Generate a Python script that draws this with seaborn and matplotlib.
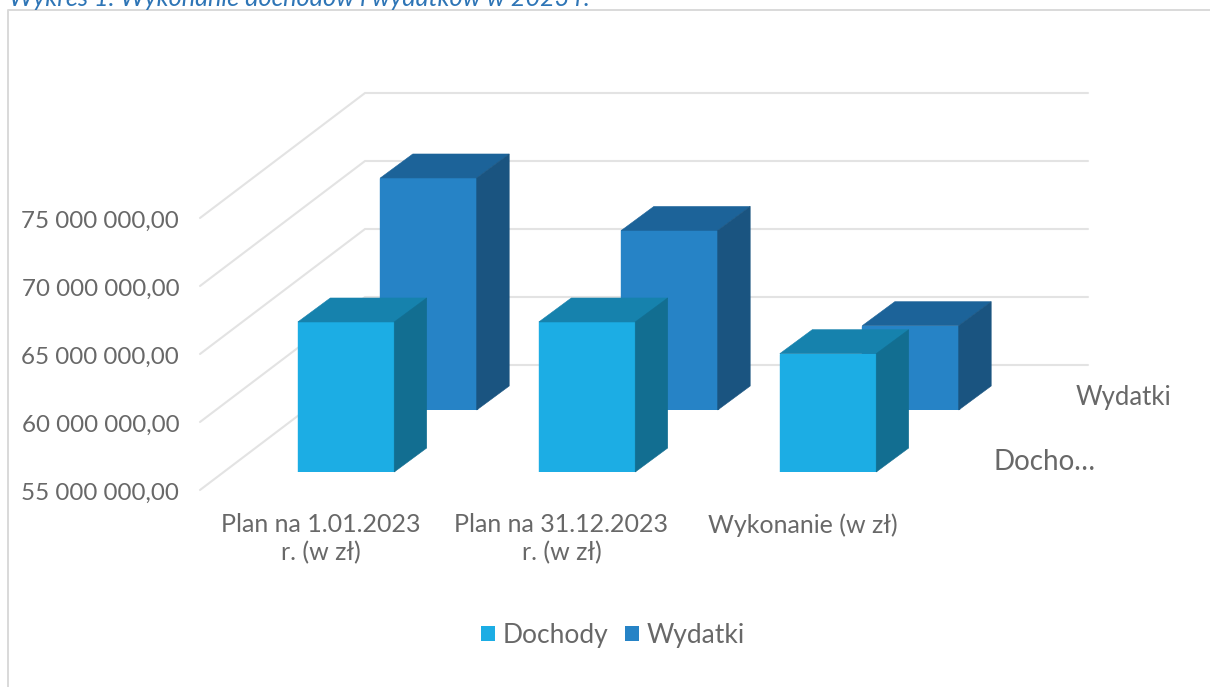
import matplotlib
matplotlib.use("Agg")
import matplotlib.pyplot as plt
from matplotlib.lines import Line2D
from matplotlib.patches import Patch, Polygon
from matplotlib.transforms import Affine2D, IdentityTransform
import pandas as pd
import seaborn as sns

categories = ["Plan na 1.01.2023\nr. (w zł)", "Plan na 31.12.2023\nr. (w zł)", "Wykonanie (w zł)"]
dochody = [66030000, 66030000, 63700000]
wydatki = [72060000, 68200000, 61200000]
y_ticks = [55000000, 60000000, 65000000, 70000000, 75000000]
y_labels = ["55 000 000,00", "60 000 000,00", "65 000 000,00", "70 000 000,00", "75 000 000,00"]
title = "Wykres 1. Wykonanie dochodów i wydatków w 2023 r."

W, H = 1210, 687
TEXT = "#686868"
GRID = "#E3E3E3"

sns.set_theme(style="white")
plt.rcParams["font.family"] = ["Lato", "DejaVu Sans"]

fig = plt.figure(figsize=(W / 100, H / 100), dpi=100)


def place(dx, dy, z):
    # all planes share one scale, they are only shifted along the depth direction
    ax = fig.add_axes([(200 + dx) / W, 1 - (490 + dy) / H, 723 / W, 272 / H], zorder=z)
    ax.patch.set_alpha(0)
    return ax


def draw_series(ax, values, front, top, side):
    df = pd.DataFrame({"cat": categories, "val": values})
    sns.barplot(data=df, x="cat", y="val", color=front, saturation=1, width=0.4, ax=ax)
    ax.set_xlim(-0.5, 2.5)
    ax.set_ylim(y_ticks[0], y_ticks[-1])
    ax.axis("off")
    for bar in ax.patches:
        x0, x1 = bar.get_x(), bar.get_x() + bar.get_width()
        (ax0, ay0), (ax1, ay1) = ax.transData.transform([(x0, y_ticks[0]), (x1, bar.get_height())])
        bar.set_edgecolor(front)
        d = (32.5, 24)
        ax.add_patch(Polygon([(ax0, ay1), (ax1, ay1), (ax1 + d[0], ay1 + d[1]), (ax0 + d[0], ay1 + d[1])],
                             facecolor=top, edgecolor=top, lw=0.4, transform=IdentityTransform(), clip_on=False))
        ax.add_patch(Polygon([(ax1, ay0), (ax1, ay1), (ax1 + d[0], ay1 + d[1]), (ax1 + d[0], ay0 + d[1])],
                             facecolor=side, edgecolor=side, lw=0.4, transform=IdentityTransform(), clip_on=False))


# wall plane: holds the axis labels and the grid
ax_wall = place(0, 0, 1)
ax_wall.set_xlim(-0.5, 2.5)
ax_wall.set_ylim(y_ticks[0], y_ticks[-1])
ax_wall.set_xticks(range(len(categories)), categories)
ax_wall.set_yticks(y_ticks, y_labels)
ax_wall.tick_params(axis="y", length=0, pad=15, labelsize=17.4, labelcolor=TEXT)
ax_wall.tick_params(axis="x", length=0, pad=16.5, labelsize=18, labelcolor=TEXT)
for t in ax_wall.get_xticklabels():
    t.set_linespacing(1.25)
for t in ax_wall.get_yticklabels():
    t.set_verticalalignment("center")
    t.set_transform(t.get_transform() + Affine2D().translate(0, -3))
ax_wall.grid(False)
for s in ax_wall.spines.values():
    s.set_visible(False)

for v in y_ticks:
    px, py = ax_wall.transData.transform((-0.5, v))
    ax_wall.add_line(Line2D([px, px + 165, px + 888], [py, py + 125, py + 125], color=GRID, lw=1.5,
                            transform=IdentityTransform(), clip_on=False, solid_joinstyle="miter"))

ax_wyd = place(108, -80, 2)
draw_series(ax_wyd, wydatki, "#2683C6", "#1C6399", "#1A5480")
ax_doch = place(25.5, -18, 3)
draw_series(ax_doch, dochody, "#1CADE4", "#1682AD", "#126E91")

# depth axis labels
fig.text(1076 / W, 1 - 398 / H, "Wydatki", color=TEXT, fontsize=18.5, va="center")
fig.text(993 / W, 1 - 462 / H, "Docho…", color=TEXT, fontsize=20, va="center")

fig.legend(handles=[Patch(facecolor="#1CADE4", linewidth=0, label="Dochody"),
                    Patch(facecolor="#2683C6", linewidth=0, label="Wydatki")],
           loc="center", bbox_to_anchor=(613 / W, 1 - 635 / H), ncols=2, frameon=False, fontsize=19,
           labelcolor=TEXT, handlelength=0.5, handleheight=0.5, handletextpad=0.3, columnspacing=0.65)

# chart border and the clipped caption above it
fig.add_artist(Line2D([1, 8 / W, 8 / W], [1 - 10 / H, 1 - 10 / H, 0], color="#D9D9D9", lw=1.4))
fig.text(9 / W, 1 - 6 / H, title, color="#2E75B6", fontsize=18.2, style="italic", va="baseline")

fig.savefig("out.png", dpi=100)
